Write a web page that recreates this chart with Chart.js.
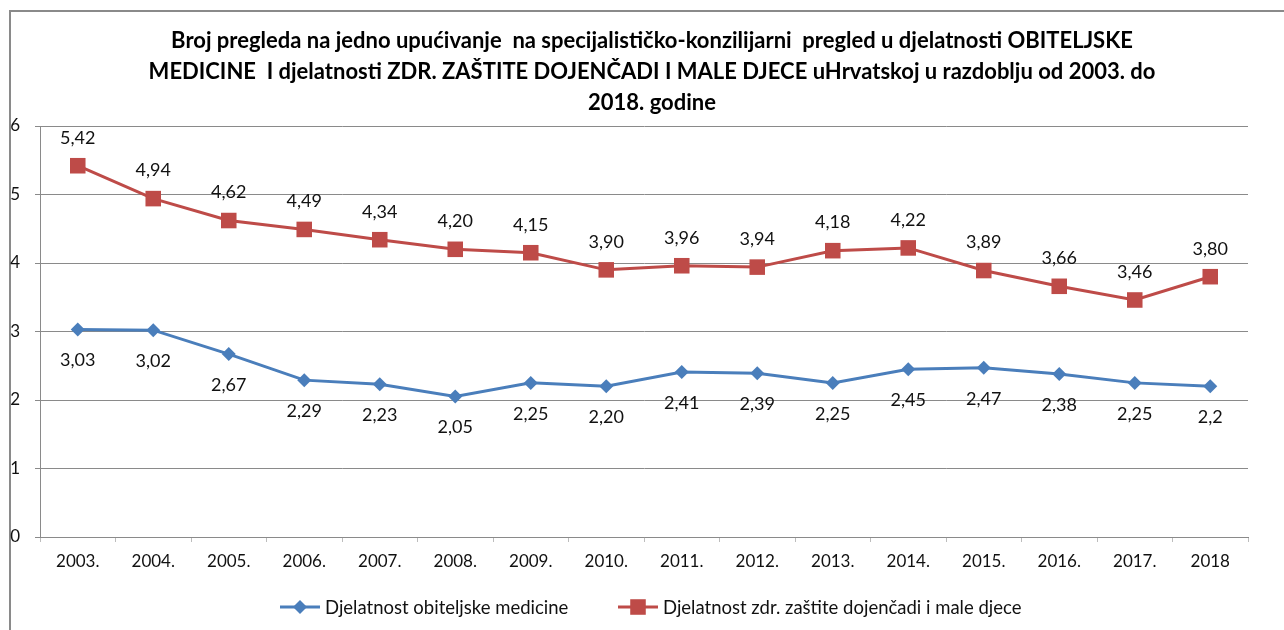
<!DOCTYPE html>
<html>
<head>
<meta charset="utf-8">
<script src="https://cdn.jsdelivr.net/npm/chart.js@4.4.1/dist/chart.umd.min.js"></script>
<style>
  html, body { margin: 0; padding: 0; background: #fff; }
  #wrap { position: relative; width: 1284px; height: 630px; }
</style>
</head>
<body>
<div id="wrap"><canvas id="chart" width="1284" height="630"></canvas></div>
<script>
const years = ['2003.', '2004.', '2005.', '2006.', '2007.', '2008.', '2009.', '2010.',
               '2011.', '2012.', '2013.', '2014.', '2015.', '2016.', '2017.', '2018'];
const obiteljska = [3.03, 3.02, 2.67, 2.29, 2.23, 2.05, 2.25, 2.20, 2.41, 2.39, 2.25, 2.45, 2.47, 2.38, 2.25, 2.2];
const obiteljskaLabels = ['3,03', '3,02', '2,67', '2,29', '2,23', '2,05', '2,25', '2,20', '2,41', '2,39', '2,25', '2,45', '2,47', '2,38', '2,25', '2,2'];
const dojencad = [5.42, 4.94, 4.62, 4.49, 4.34, 4.20, 4.15, 3.90, 3.96, 3.94, 4.18, 4.22, 3.89, 3.66, 3.46, 3.80];
const dojencadLabels = ['5,42', '4,94', '4,62', '4,49', '4,34', '4,20', '4,15', '3,90', '3,96', '3,94', '4,18', '4,22', '3,89', '3,66', '3,46', '3,80'];
const yTicks = [0, 1, 2, 3, 4, 5, 6];

const titleLines = [
    'Broj pregleda na jedno upućivanje  na specijalističko-konzilijarni  pregled u djelatnosti OBITELJSKE',
    'MEDICINE  I djelatnosti ZDR. ZAŠTITE DOJENČADI I MALE DJECE uHrvatskoj u razdoblju od 2003. do',
    '2018. godine'
];

const BLUE = '#4a7ebb';
const RED = '#be4b48';
const TEXT = '#111';
const FONT = 'Lato';

// value labels: red above, blue below
const valueLabels = {
    id: 'valueLabels',
    afterDatasetsDraw(chart) {
        const ctx = chart.ctx;
        ctx.save();
        ctx.font = `18px ${FONT}`;
        ctx.fillStyle = TEXT;
        ctx.textAlign = 'center';
        ctx.textBaseline = 'middle';
        chart.data.datasets.forEach((ds, i) => {
            const meta = chart.getDatasetMeta(i);
            meta.data.forEach((pt, j) => {
                const dy = ds.labelPos === 'above' ? -28 : 31;
                ctx.fillText(ds.valueText[j], pt.x, pt.y + dy);
            });
        });
        ctx.restore();
    }
};

// frame, title and legend
const frameAndLegend = {
    id: 'frameAndLegend',
    beforeDraw(chart) {
        const ctx = chart.ctx;
        ctx.save();
        ctx.strokeStyle = '#8a8a8a';
        ctx.lineWidth = 2;
        ctx.beginPath();
        ctx.moveTo(10, 630);
        ctx.lineTo(10, 11);
        ctx.lineTo(1284, 11);
        ctx.stroke();

        ctx.font = `bold 22px ${FONT}`;
        ctx.fillStyle = '#000';
        ctx.textAlign = 'center';
        ctx.textBaseline = 'middle';
        titleLines.forEach((t, i) => ctx.fillText(t, 652, 41 + i * 31));
        ctx.restore();
    },
    afterDraw(chart) {
        const ctx = chart.ctx;
        const y = 607;
        ctx.save();
        ctx.font = `18.5px ${FONT}`;
        ctx.textBaseline = 'middle';
        ctx.textAlign = 'left';
        const items = [
            { x: 280, color: BLUE, style: 'rectRot', r: 7, ds: 0 },
            { x: 618, color: RED, style: 'rect', r: 11, ds: 1 }
        ];
        items.forEach(it => {
            ctx.strokeStyle = it.color;
            ctx.lineWidth = 3;
            ctx.beginPath();
            ctx.moveTo(it.x, y);
            ctx.lineTo(it.x + 40, y);
            ctx.stroke();
            ctx.fillStyle = it.color;
            Chart.helpers.drawPoint(ctx, { pointStyle: it.style, radius: it.r, borderWidth: 0 }, it.x + 20, y);
            ctx.fillStyle = TEXT;
            ctx.fillText(chart.data.datasets[it.ds].label, it.x + 45, y + 1);
        });
        ctx.restore();
    }
};

new Chart(document.getElementById('chart'), {
    type: 'line',
    data: {
        labels: years,
        datasets: [
            {
                label: 'Djelatnost obiteljske medicine',
                data: obiteljska,
                valueText: obiteljskaLabels,
                labelPos: 'below',
                borderColor: BLUE,
                backgroundColor: BLUE,
                borderWidth: 3,
                pointStyle: 'rectRot',
                pointRadius: 7,
                pointBorderWidth: 0,
                tension: 0
            },
            {
                label: 'Djelatnost zdr. zaštite dojenčadi i male djece',
                data: dojencad,
                valueText: dojencadLabels,
                labelPos: 'above',
                borderColor: RED,
                backgroundColor: RED,
                borderWidth: 3,
                pointStyle: 'rect',
                pointRadius: 11,
                pointBorderWidth: 0,
                tension: 0
            }
        ]
    },
    options: {
        responsive: false,
        animation: false,
        layout: { padding: { left: 0, right: 36, top: 126, bottom: 50 } },
        plugins: {
            legend: { display: false },
            tooltip: { enabled: false },
            title: { display: false }
        },
        scales: {
            x: {
                offset: true,
                grid: {
                    offset: true,
                    drawOnChartArea: false,
                    drawTicks: true,
                    tickLength: 5,
                    color: '#bdbdbd'
                },
                border: { display: true, color: '#8a8a8a', width: 1 },
                ticks: {
                    color: TEXT,
                    font: { family: FONT, size: 17 },
                    padding: 9,
                    maxRotation: 0,
                    autoSkip: false
                },
                afterFit(scale) { scale.height = 43; }
            },
            y: {
                min: 0,
                max: 6,
                afterBuildTicks(scale) { scale.ticks = yTicks.map(v => ({ value: v })); },
                grid: {
                    color: '#8a8a8a',
                    tickLength: 5
                },
                border: { display: true, color: '#8a8a8a', width: 1 },
                ticks: {
                    color: TEXT,
                    font: { family: FONT, size: 17 },
                    padding: 15
                },
                afterFit(scale) { scale.width = 40; }
            }
        }
    },
    plugins: [valueLabels, frameAndLegend]
});
</script>
</body>
</html>
